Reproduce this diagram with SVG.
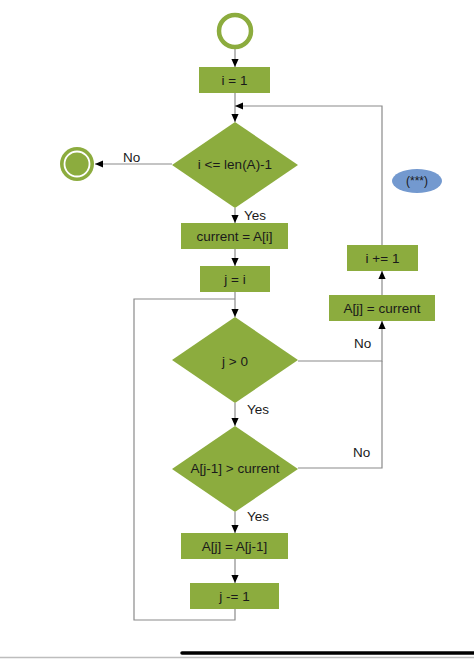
<svg xmlns="http://www.w3.org/2000/svg" width="474" height="660" viewBox="0 0 474 660">
<defs>
<style>
.box{fill:#8cac3e;}
.t{font-family:"Liberation Sans",Arial,sans-serif;font-size:13.5px;fill:#1a1a1a;text-anchor:middle;dominant-baseline:central;}
.lbl{font-family:"Liberation Sans",Arial,sans-serif;font-size:13.5px;fill:#1a1a1a;dominant-baseline:central;}
.c{fill:none;stroke:#8a8a8a;stroke-width:1.2;}
</style>
<marker id="ah" viewBox="0 0 10 10" refX="10" refY="5" markerWidth="8" markerHeight="8" markerUnits="userSpaceOnUse" orient="auto">
<path d="M0,0.5 L10,5 L0,9.5 Z" fill="#000"/>
</marker>
</defs>
<rect width="474" height="660" fill="#fff"/>
<g id="connectors">
<line class="c" x1="235" y1="49" x2="235" y2="67" marker-end="url(#ah)"/>
<line class="c" x1="235" y1="93" x2="235" y2="122" marker-end="url(#ah)"/>
<polyline class="c" points="382,245 382,106 235,106" marker-end="url(#ah)"/>
<line class="c" x1="172" y1="164" x2="95" y2="164" marker-end="url(#ah)"/>
<line class="c" x1="235" y1="208" x2="235" y2="223" marker-end="url(#ah)"/>
<line class="c" x1="235" y1="249" x2="235" y2="266" marker-end="url(#ah)"/>
<line class="c" x1="235" y1="292" x2="235" y2="317" marker-end="url(#ah)"/>
<polyline class="c" points="235,609 235,620 134,620 134,299 235,299"/>
<polyline class="c" points="298,361 382,361 382,321" marker-end="url(#ah)"/>
<polyline class="c" points="298,468 382,468 382,361"/>
<line class="c" x1="382" y1="295" x2="382" y2="271" marker-end="url(#ah)"/>
<line class="c" x1="235" y1="403" x2="235" y2="426" marker-end="url(#ah)"/>
<line class="c" x1="235" y1="512" x2="235" y2="533" marker-end="url(#ah)"/>
<line class="c" x1="235" y1="559" x2="235" y2="583" marker-end="url(#ah)"/>
<text class="lbl" x="123" y="157">No</text>
<text class="lbl" x="244" y="215">Yes</text>
<text class="lbl" x="354" y="343">No</text>
<text class="lbl" x="247" y="409">Yes</text>
<text class="lbl" x="353" y="452">No</text>
<text class="lbl" x="247" y="516">Yes</text>
</g>
<g id="start">
<circle cx="235" cy="31" r="16" fill="#fff" stroke="#8cac3e" stroke-width="4.5"/>
</g>
<g id="end">
<circle cx="77" cy="164" r="17" fill="#8cac3e"/>
<circle cx="77" cy="164" r="12.5" fill="none" stroke="#fff" stroke-width="1.8"/>
</g>
<g id="init">
<rect class="box" x="199" y="67" width="71" height="26"/>
<text class="t" x="234.5" y="80">i = 1</text>
</g>
<g id="cond1">
<polygon class="box" points="235,122 298,165 235,208 172,165"/>
<text class="t" x="235" y="164">i &lt;= len(A)-1</text>
</g>
<g id="current">
<rect class="box" x="181" y="223" width="107" height="26"/>
<text class="t" x="234.5" y="236">current = A[i]</text>
</g>
<g id="jinit">
<rect class="box" x="200" y="266" width="70" height="26"/>
<text class="t" x="235" y="279">j = i</text>
</g>
<g id="cond2">
<polygon class="box" points="235,317 298,360 235,403 172,360"/>
<text class="t" x="235" y="361">j &gt; 0</text>
</g>
<g id="cond3">
<polygon class="box" points="235,426 298,469 235,512 172,469"/>
<text class="t" x="235" y="468">A[j-1] &gt; current</text>
</g>
<g id="shift">
<rect class="box" x="181" y="533" width="107" height="26"/>
<text class="t" x="234.5" y="546">A[j] = A[j-1]</text>
</g>
<g id="dec">
<rect class="box" x="190" y="583" width="89" height="26"/>
<text class="t" x="234.5" y="596">j -= 1</text>
</g>
<g id="assign">
<rect class="box" x="329" y="295" width="106" height="26"/>
<text class="t" x="382" y="308">A[j] = current</text>
</g>
<g id="inc">
<rect class="box" x="347" y="245" width="71" height="26"/>
<text class="t" x="382.5" y="258">i += 1</text>
</g>
<g id="note">
<ellipse cx="417" cy="181" rx="25" ry="12" fill="#7399cf"/>
<text class="t" x="417" y="181" style="font-size:12px">(***)</text>
</g>
<line x1="0" y1="657.5" x2="474" y2="657.5" stroke="#bdbdbd" stroke-width="1.5"/>
<line x1="182" y1="653" x2="474" y2="653" stroke="#000" stroke-width="3.5" stroke-linecap="round"/>
</svg>
